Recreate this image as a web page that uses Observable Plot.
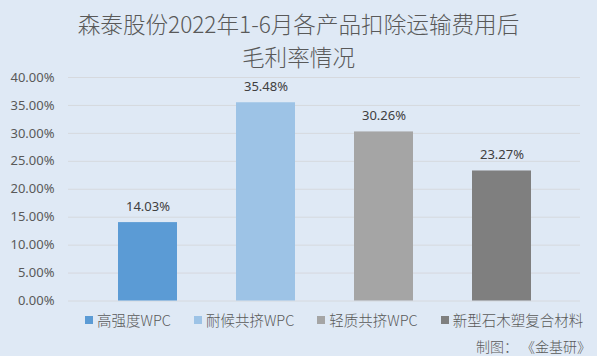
<!DOCTYPE html>
<html>
<head>
<meta charset="utf-8">
<script src="https://cdn.jsdelivr.net/npm/d3@7"></script>
<script src="https://cdn.jsdelivr.net/npm/@observablehq/plot@0.6"></script>
<style>
  html, body { margin: 0; padding: 0; }
  #wrap { position: relative; width: 597px; height: 356px; background: #dfe9f5; overflow: hidden;
          font-family: "Noto Sans", "Noto Sans CJK SC", sans-serif; }
  #title { position: absolute; left: 0; top: 7px; width: 597px; text-align: center;
           font-family: "Noto Sans CJK SC", "Noto Sans", sans-serif; font-size: 22.6px; font-weight: 300; line-height: 33px; color: #595959; }
  #legend { position: absolute; left: 85px; top: 310px; display: flex; gap: 23px;
            font-family: "Noto Sans CJK SC", "Noto Sans", sans-serif; font-size: 14.5px; font-weight: 300; color: #595959; line-height: 20px; }
  .li { display: flex; align-items: center; gap: 4px; }
  .sw { width: 8px; height: 8px; display: inline-block; }
  #caption { position: absolute; right: 6px; top: 336px; font-family: "Noto Sans CJK SC", sans-serif;
             font-size: 14px; font-weight: 300; color: #595959; line-height: 20px; white-space: pre; }
  svg { position: absolute; left: 0; top: 0; }
</style>
</head>
<body>
<div id="wrap">
  <div id="title">森泰股份2022年1-6月各产品扣除运输费用后<br>毛利率情况</div>
  <div id="legend"></div>
  <div id="caption">制图： 《金基研》</div>
</div>
<script>
const categories = ["高强度WPC", "耐候共挤WPC", "轻质共挤WPC", "新型石木塑复合材料"];
const values = [14.03, 35.48, 30.26, 23.27];
const colors = ["#5b9bd5", "#9dc3e6", "#a5a5a5", "#7f7f7f"];
const yTicks = [0, 5, 10, 15, 20, 25, 30, 35, 40];

const data = categories.map((c, i) => ({category: c, value: values[i]}));

const chart = Plot.plot({
  width: 597,
  height: 356,
  marginTop: 77,
  marginBottom: 55.5,
  marginLeft: 68,
  marginRight: 17,
  style: {background: "transparent", fontFamily: "'Noto Sans', sans-serif"},
  x: {domain: categories, range: [88.5, 560.5], paddingInner: 0.5, paddingOuter: 0.25, axis: null},
  y: {domain: [0, 40], axis: null},
  color: {domain: categories, range: colors},
  marks: [
    Plot.ruleY(yTicks, {stroke: "#d6d9de", strokeWidth: 1}),
    Plot.axisY({ticks: yTicks, tickSize: 0, tickPadding: 14, fontSize: 13, fill: "#595959",
                tickFormat: d => d.toFixed(2) + "%", label: null}),
    Plot.barY(data, {x: "category", y: "value", fill: "category"}),
    Plot.text(data, {x: "category", y: "value", text: d => d.value.toFixed(2) + "%", dy: -16,
                     fontSize: 13, fill: "#404040", lineAnchor: "middle"})
  ]
});
document.getElementById("wrap").appendChild(chart);

const legend = document.getElementById("legend");
categories.forEach((c, i) => {
  const item = document.createElement("div");
  item.className = "li";
  const sw = document.createElement("span");
  sw.className = "sw";
  sw.style.background = colors[i];
  const t = document.createElement("span");
  t.textContent = c;
  item.appendChild(sw);
  item.appendChild(t);
  legend.appendChild(item);
});
</script>
</body>
</html>
